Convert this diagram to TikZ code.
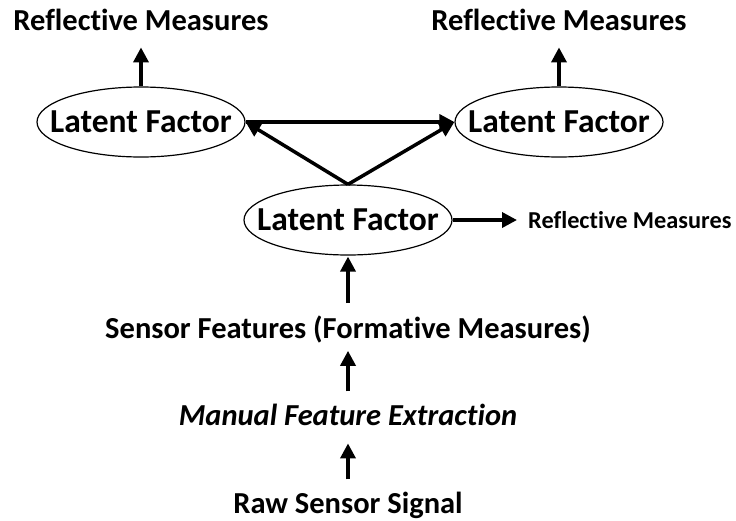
\documentclass[tikz,border=0pt]{standalone}
\usepackage{fontspec}
\setmainfont[Ligatures=NoCommon]{Carlito}
\usetikzlibrary{arrows.meta,shapes.geometric,positioning}

\tikzset{
    latent/.style={draw, ellipse, line width=1.2pt, minimum width=208pt,
        minimum height=70pt, inner xsep=-20pt, inner ysep=0pt,
        font=\fontsize{33.5}{36}\selectfont\bfseries},
    measure/.style={inner sep=0pt, anchor=base,
        font=\fontsize{30.5}{33}\selectfont\bfseries},
    link/.style={line width=3.5pt, -{Triangle[length=15pt,width=15pt]}}
}

\begin{document}
\begin{tikzpicture}[x=1pt, y=-1pt]
        \useasboundingbox (0,0) rectangle (736,520);

        % latent factors
        \node[latent] (lfL) at (141,122) {Latent Factor};
        \node[latent] (lfR) at (559,122) {Latent Factor};
        \node[latent] (lfM) at (348,220) {Latent Factor};

        % reflective measures
        \node[measure] (rmL) at (141,30) {Reflective Measures};
        \node[measure] (rmR) at (559,30) {Reflective Measures};
        \node[measure, anchor=west, font=\fontsize{24.3}{26}\selectfont\bfseries]
            (rmM) at (528,220) {Reflective Measures};

        % formative side
        \node[measure] (sf) at (348,338) {Sensor Features (Formative Measures)};
        \node[measure, font=\fontsize{30.5}{33}\selectfont\bfseries\itshape]
            (mfe) at (348,425) {Manual Feature Extraction};
        \node[measure] (rss) at (348,513) {Raw Sensor Signal};

        \draw[link, shorten >=17pt] (lfL.north) -- (rmL.south);
        \draw[link, shorten >=17pt] (lfR.north) -- (rmR.south);
        \draw[link] (lfM.north) -- (lfL.east);
        \draw[link] (lfM.north) -- (lfR.west);
        \draw[link] (lfL.east) -- (lfR.west);
        \draw[link, shorten >=11pt] (lfM.east) -- (rmM.west);
        \draw[link, shorten <=12pt, shorten >=1pt] (sf.north) -- (lfM.south);
        \draw[link, shorten <=12pt, shorten >=8pt] (mfe.north) -- (sf.south);
        \draw[link, shorten <=12pt, shorten >=18pt] (rss.north) -- (mfe.south);
\end{tikzpicture}
\end{document}
